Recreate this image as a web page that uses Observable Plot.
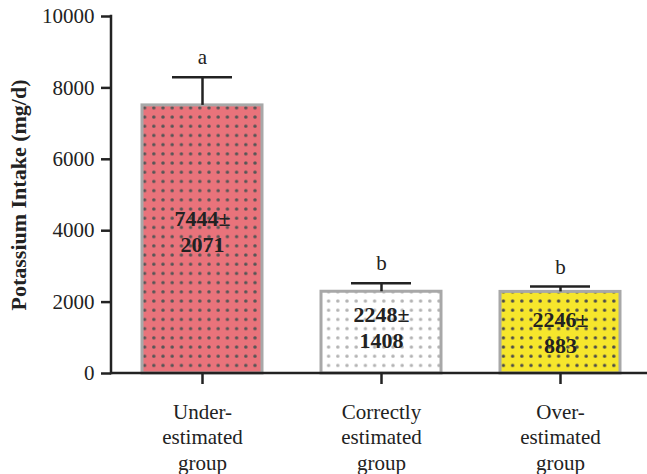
<!DOCTYPE html>
<html>
<head>
<meta charset="utf-8">
<script src="https://cdn.jsdelivr.net/npm/d3@7"></script>
<script src="https://cdn.jsdelivr.net/npm/@observablehq/plot@0.6"></script>
<style>
  html, body { margin: 0; padding: 0; background: #fff; }
  svg { display: block; }
</style>
</head>
<body>
<div id="chart"></div>
<script>
// ---- data ----
const groups = ["Under-\nestimated\ngroup", "Correctly\nestimated\ngroup", "Over-\nestimated\ngroup"];
const barValues = [7510, 2290, 2285];      // bar heights (mg/d)
const errTops = [8300, 2525, 2435];        // upper end of error bars
const meanLabels = ["7444±\n2071", "2248±\n1408", "2246±\n883"];
const sigLetters = ["a", "b", "b"];
const labelY = [3990, 1310, 1165];         // where the mean±SD text sits
const yTicks = [0, 2000, 4000, 6000, 8000, 10000];
const yTitle = "Potassium Intake (mg/d)";
const fills = ["#e9737b", "#ffffff", "#f6e62c"];
const dotColors = ["#555555", "#b3b3b3", "#4a4a4a"];

const data = groups.map((g, i) => ({
  group: g, value: barValues[i], top: errTops[i], label: meanLabels[i],
  letter: sigLetters[i], ly: labelY[i], pat: `url(#pat${i})`
}));

const font = "'Liberation Serif', 'Times New Roman', serif";

const plot = Plot.plot({
  width: 647,
  height: 474,
  marginLeft: 111,
  marginRight: 0,
  marginTop: 16,
  marginBottom: 101,
  style: { fontFamily: font, fontSize: "21px", color: "#222", background: "#fff" },
  x: { domain: groups, range: [111, 651], paddingInner: 0.328, paddingOuter: 0.167, label: null },
  y: { domain: [0, 10000], label: null },
  marks: [
    ...data.map(d => Plot.barY([d], { x: "group", y: "value", fill: d.pat, stroke: "#a8a8a8", strokeWidth: 3 })),
    Plot.ruleX(data, { x: "group", y1: "value", y2: "top", stroke: "#222", strokeWidth: 2.5 }),
    Plot.tickY(data, { x: "group", y: "top", stroke: "#222", strokeWidth: 2.5, insetLeft: 30, insetRight: 30 }),
    Plot.text(data, { x: "group", y: "top", text: "letter", lineAnchor: "bottom", dy: -13, fontSize: 21, fill: "#222" }),
    Plot.text(data, { x: "group", y: "ly", text: "label", fontWeight: "bold", fontSize: 22, lineHeight: 1.17, fill: "#222" }),
    Plot.axisY({ ticks: yTicks, tickFormat: d => String(d), tickSize: 10, tickPadding: 7, stroke: "#222",
      label: null, fontSize: 21 }),
    Plot.text([yTitle], { frameAnchor: "left", rotate: -90, dx: -93, text: d => d, fontWeight: "bold",
      fontSize: 22, textAnchor: "middle", fill: "#222", dy: 0 }),
    Plot.axisX({ tickSize: 11, tickPadding: 16, lineHeight: 1.22, fontSize: 21, label: null, stroke: "#222" })
  ]
});

// pattern definitions
const svg = d3.select(plot);
const defs = svg.insert("defs", ":first-child");
fills.forEach((f, i) => {
  const p = defs.append("pattern").attr("id", `pat${i}`).attr("patternUnits", "userSpaceOnUse")
    .attr("width", 9.2).attr("height", 9.2).attr("x", 2).attr("y", 2);
  p.append("rect").attr("width", 9.2).attr("height", 9.2).attr("fill", f);
  p.append("circle").attr("cx", 4.6).attr("cy", 4.6).attr("r", 1.7).attr("fill", dotColors[i]);
});

// axis lines drawn from the plot's scales
const ys = plot.scale("y");
const y0 = ys.apply(0), y1 = ys.apply(10000);
svg.append("line").attr("x1", 111).attr("x2", 111).attr("y1", y0 + 1.25).attr("y2", y1 - 1.25)
  .attr("stroke", "#222").attr("stroke-width", 2.5);
svg.append("line").attr("x1", 111).attr("x2", 647).attr("y1", y0).attr("y2", y0)
  .attr("stroke", "#222").attr("stroke-width", 2.5);

svg.selectAll("[aria-label='y-axis tick'] path, [aria-label='x-axis tick'] path, [aria-label='y-axis tick'], [aria-label='x-axis tick']")
  .attr("stroke-width", 2.5);

document.getElementById("chart").appendChild(plot);
</script>
</body>
</html>
